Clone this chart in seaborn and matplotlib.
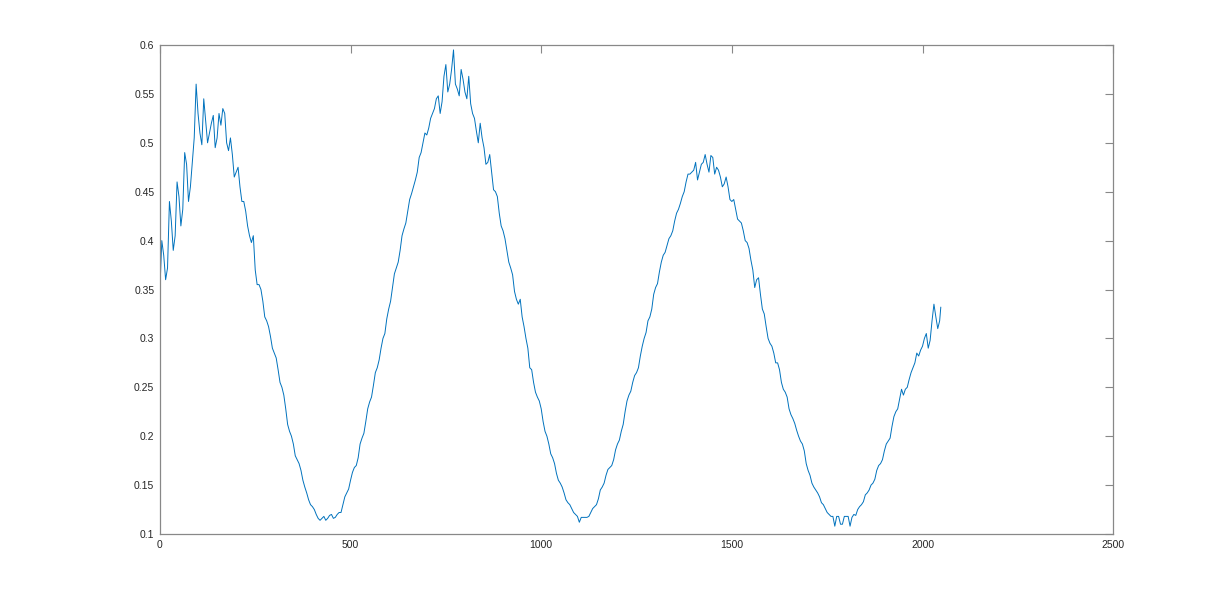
import pandas as pd
import matplotlib.pyplot as plt
import seaborn as sns

# trace: values at every 10th sample ...
sample_idx = list(range(0, 2050, 10))[:205] + [2048]
signal = [
    0.350, 0.385, 0.372, 0.420, 0.405, 0.445, 0.432, 0.478, 0.455, 0.505,
    0.530, 0.498, 0.522, 0.510, 0.528, 0.505, 0.518, 0.530, 0.492, 0.488,
    0.470, 0.455, 0.440, 0.415, 0.398, 0.370, 0.355, 0.338, 0.318, 0.302,
    0.285, 0.268, 0.250, 0.228, 0.205, 0.192, 0.176, 0.165, 0.148, 0.135,
    0.128, 0.120, 0.114, 0.118, 0.116, 0.120, 0.117, 0.122, 0.130, 0.142,
    0.155, 0.168, 0.178, 0.198, 0.215, 0.235, 0.252, 0.270, 0.290, 0.305,
    0.330, 0.352, 0.372, 0.390, 0.412, 0.430, 0.448, 0.462, 0.485, 0.500,
    0.508, 0.525, 0.535, 0.548, 0.542, 0.580, 0.560, 0.595, 0.555, 0.575,
    0.552, 0.568, 0.530, 0.512, 0.520, 0.495, 0.480, 0.470, 0.450, 0.428,
    0.410, 0.390, 0.372, 0.348, 0.335, 0.322, 0.300, 0.270, 0.255, 0.240,
    0.228, 0.205, 0.192, 0.178, 0.162, 0.152, 0.142, 0.132, 0.126, 0.120,
    0.112, 0.117, 0.117, 0.122, 0.128, 0.136, 0.148, 0.160, 0.168, 0.176,
    0.192, 0.205, 0.225, 0.242, 0.255, 0.265, 0.282, 0.300, 0.318, 0.330,
    0.352, 0.368, 0.385, 0.395, 0.405, 0.420, 0.432, 0.445, 0.460, 0.468,
    0.472, 0.462, 0.478, 0.488, 0.470, 0.485, 0.475, 0.465, 0.458, 0.455,
    0.440, 0.432, 0.420, 0.410, 0.398, 0.380, 0.352, 0.362, 0.330, 0.312,
    0.295, 0.285, 0.275, 0.255, 0.245, 0.228, 0.218, 0.206, 0.195, 0.185,
    0.165, 0.152, 0.145, 0.138, 0.130, 0.122, 0.118, 0.108, 0.118, 0.110,
    0.118, 0.108, 0.120, 0.125, 0.130, 0.140, 0.145, 0.152, 0.165, 0.172,
    0.185, 0.195, 0.210, 0.225, 0.238, 0.242, 0.250, 0.265, 0.275, 0.282,
    0.292, 0.305, 0.298, 0.335, 0.310, 0.332,
]

# ... and the in-between samples (5, 15, 25, ...) that carry the jitter
half_idx = list(range(5, 2050, 10))
signal_half = [
    0.400, 0.360, 0.440, 0.390, 0.460, 0.415, 0.490, 0.440, 0.480, 0.560,
    0.510, 0.545, 0.500, 0.520, 0.495, 0.530, 0.535, 0.500, 0.505, 0.465,
    0.475, 0.440, 0.430, 0.405, 0.405, 0.355, 0.350, 0.322, 0.312, 0.290,
    0.280, 0.255, 0.242, 0.212, 0.200, 0.180, 0.172, 0.155, 0.142, 0.130,
    0.125, 0.116, 0.116, 0.114, 0.119, 0.116, 0.120, 0.122, 0.138, 0.146,
    0.163, 0.170, 0.192, 0.203, 0.228, 0.240, 0.265, 0.278, 0.300, 0.320,
    0.338, 0.366, 0.378, 0.405, 0.418, 0.442, 0.455, 0.470, 0.490, 0.510,
    0.515, 0.530, 0.545, 0.530, 0.568, 0.552, 0.575, 0.560, 0.548, 0.565,
    0.545, 0.540, 0.525, 0.500, 0.505, 0.478, 0.488, 0.452, 0.445, 0.415,
    0.402, 0.378, 0.365, 0.340, 0.340, 0.312, 0.290, 0.268, 0.245, 0.236,
    0.215, 0.200, 0.182, 0.172, 0.155, 0.148, 0.135, 0.130, 0.122, 0.118,
    0.117, 0.117, 0.118, 0.126, 0.130, 0.145, 0.152, 0.166, 0.170, 0.186,
    0.196, 0.212, 0.236, 0.246, 0.262, 0.270, 0.292, 0.306, 0.322, 0.345,
    0.356, 0.378, 0.388, 0.402, 0.410, 0.428, 0.438, 0.450, 0.468, 0.470,
    0.480, 0.470, 0.480, 0.478, 0.487, 0.468, 0.472, 0.455, 0.465, 0.442,
    0.442, 0.422, 0.418, 0.400, 0.392, 0.370, 0.360, 0.345, 0.325, 0.300,
    0.292, 0.275, 0.268, 0.248, 0.240, 0.222, 0.213, 0.200, 0.192, 0.172,
    0.160, 0.148, 0.142, 0.132, 0.126, 0.120, 0.118, 0.118, 0.110, 0.118,
    0.118, 0.117, 0.119, 0.128, 0.133, 0.142, 0.150, 0.156, 0.170, 0.176,
    0.192, 0.198, 0.220, 0.228, 0.248, 0.248, 0.258, 0.270, 0.285, 0.288,
    0.300, 0.290, 0.318, 0.322, 0.318,
]

x_ticks = [0, 500, 1000, 1500, 2000, 2500]
y_ticks = [0.1, 0.15, 0.2, 0.25, 0.3, 0.35, 0.4, 0.45, 0.5, 0.55, 0.6]


def plot_signal():
    df = pd.concat([
        pd.DataFrame({"n": sample_idx, "value": signal}),
        pd.DataFrame({"n": half_idx, "value": signal_half}),
    ]).sort_values("n")

    sns.set_theme(style="white")
    plt.rcParams['font.family'] = ['Liberation Sans', 'DejaVu Sans']

    fig = plt.figure(figsize=(12.3, 6), dpi=100)
    ax = fig.add_axes([0.130, 0.110, 0.775, 0.815])
    sns.lineplot(data=df, x="n", y="value", color="#0072BD",
                 linewidth=0.7, ax=ax)

    ax.set_xlim(0, 2500)
    ax.set_ylim(0.1, 0.6)
    ax.set_xticks(x_ticks)
    ax.set_yticks(y_ticks)
    ax.set_xticklabels([str(t) for t in x_ticks])
    ax.set_yticklabels([f"{t:g}" for t in y_ticks])
    ax.set_xlabel("")
    ax.set_ylabel("")

    for s in ax.spines.values():
        s.set_color("#888888")
        s.set_linewidth(0.9)
    ax.tick_params(direction="in", top=True, right=True, length=6,
                   width=0.8, color="#888888", labelsize=7.5,
                   labelcolor="#262626", pad=4)

    fig.savefig("out.png", dpi=100)


if __name__ == "__main__":
    plot_signal()
